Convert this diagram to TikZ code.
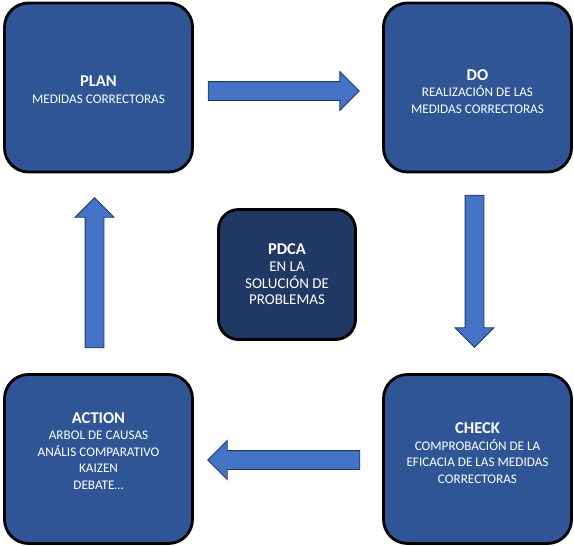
\documentclass[tikz,border=0pt]{standalone}
\usepackage{fontspec}
\setmainfont{Carlito}
\usetikzlibrary{shapes.arrows}
\definecolor{fase}{HTML}{2F5597}
\definecolor{centro}{HTML}{203864}
\definecolor{flecha}{HTML}{4472C4}
\definecolor{borde}{HTML}{1F3864}
\newcommand{\titulo}[1]{{\fontsize{16.5}{17}\selectfont\bfseries #1}}
\begin{document}
\begin{tikzpicture}[x=1pt, y=1pt,
    fase/.style={draw=black, line width=2.8pt, fill=fase, rounded corners=24pt,
        minimum width=188pt, minimum height=169pt},
    texto/.style={text=white, align=center, font=\fontsize{13.2}{16.5}\selectfont},
    flechabloque/.style={single arrow, draw=borde, line width=0.8pt, fill=flecha,
        inner sep=9pt, single arrow head extend=10pt, minimum height=#1}]
    \useasboundingbox (0,0) rectangle (574,-546);

    % fases del ciclo
    \node[fase] (plan) at (98.5,-87.5) {};
    \node[fase] (do) at (477.5,-87.5) {};
    \node[fase] (check) at (477.5,-459) {};
    \node[fase] (action) at (98.5,-459) {};
    \node[fase, fill=centro, minimum width=137pt, minimum height=130pt,
        rounded corners=20pt] (pdca) at (287,-274.5) {};

    \node[texto] (plantxt) at ([yshift=-2pt]plan.center)
        {\titulo{PLAN}\\MEDIDAS CORRECTORAS};
    \node[texto] (dotxt) at ([yshift=-4pt]do.center)
        {\titulo{DO}\\REALIZACIÓN DE LAS\\MEDIDAS CORRECTORAS};
    \node[texto] (checktxt) at ([yshift=6pt]check.center)
        {\titulo{CHECK}\\COMPROBACIÓN DE LA\\EFICACIA DE LAS MEDIDAS\\CORRECTORAS};
    \node[texto] (actiontxt) at ([yshift=8pt]action.center)
        {\titulo{ACTION}\\ARBOL DE CAUSAS\\ANÁLIS COMPARATIVO\\KAIZEN\\DEBATE\dots};
    \node[texto, font=\fontsize{15}{16.7}\selectfont] (pdcatxt) at (pdca.center)
        {\titulo{PDCA}\\EN LA\\SOLUCIÓN DE\\PROBLEMAS};

    % flechas entre fases
    \node[flechabloque=151pt] (f1) at (279,-91) {};
    \node[flechabloque=152pt, shape border rotate=270] (f2) at (474.5,-266.5) {};
    \node[flechabloque=152pt, shape border rotate=180] (f3) at (288.5,-460) {};
    \node[flechabloque=150pt, shape border rotate=90] (f4) at (94.5,-277.5) {};
\end{tikzpicture}
\end{document}
